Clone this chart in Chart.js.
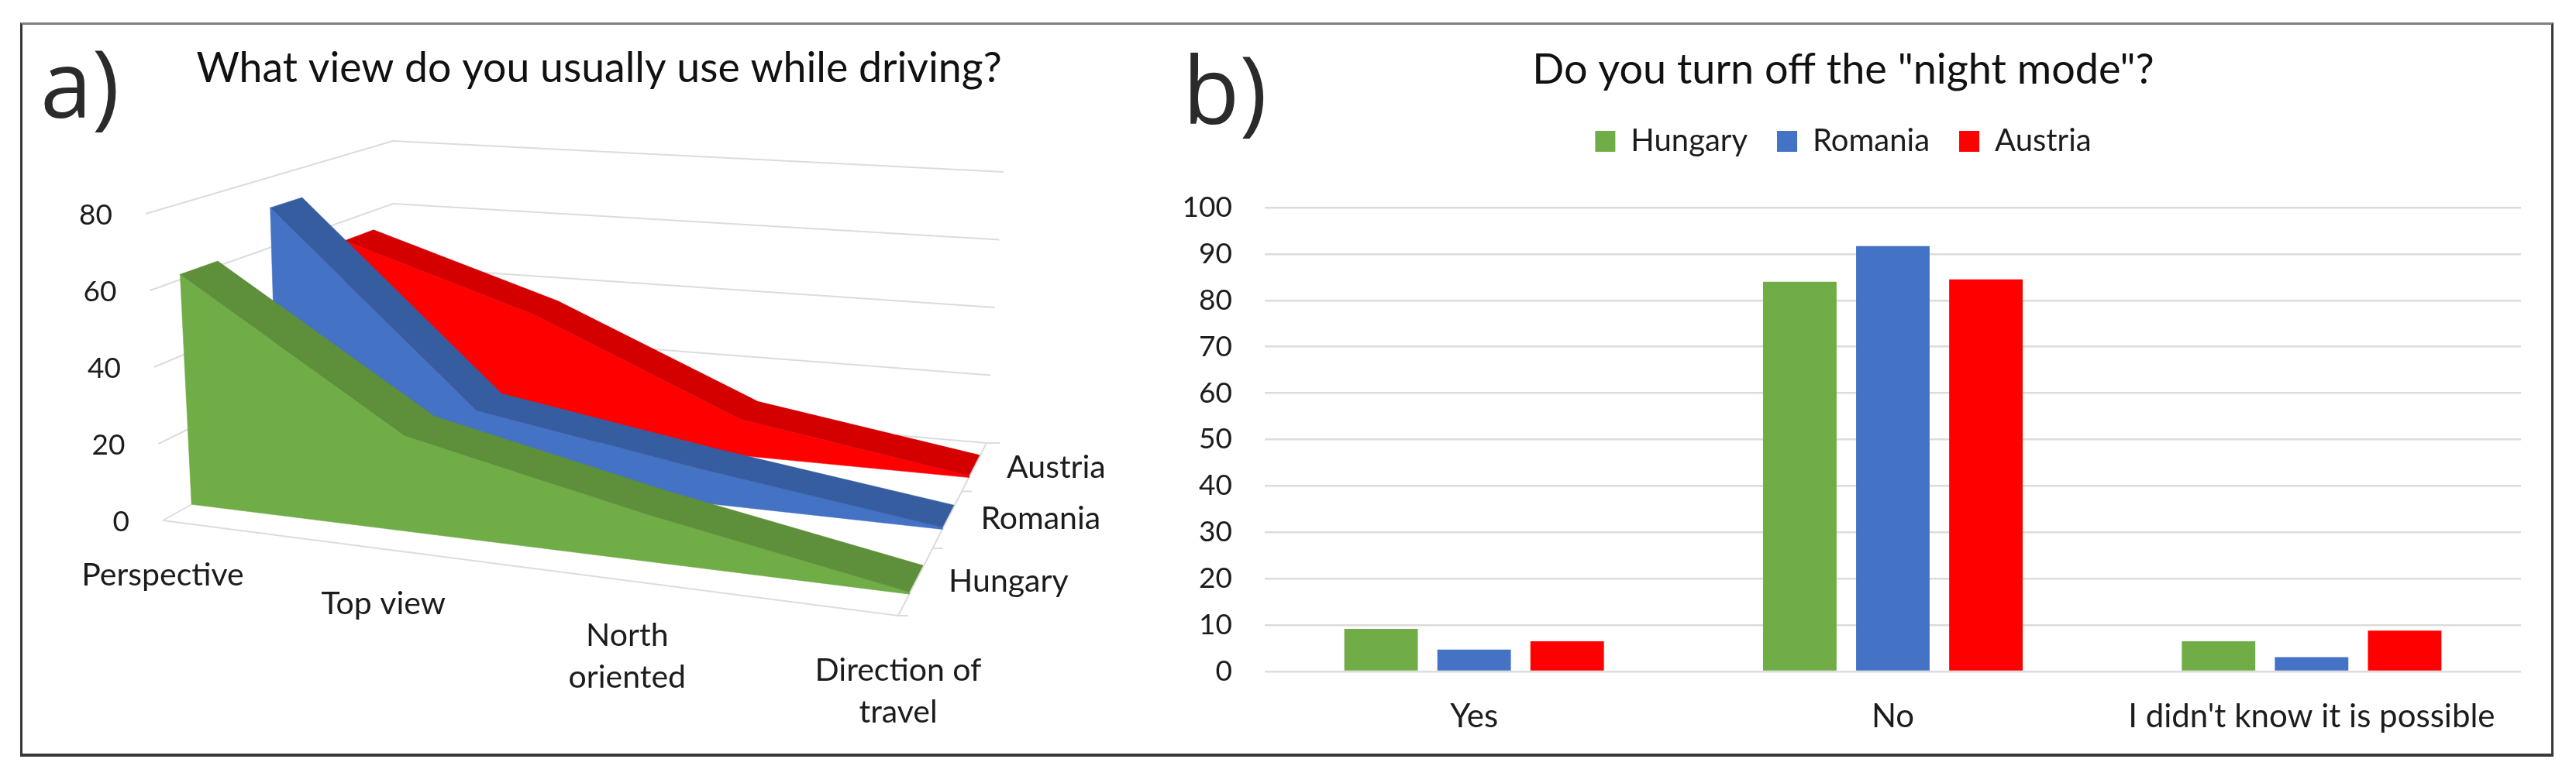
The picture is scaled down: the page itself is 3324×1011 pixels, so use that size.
<!DOCTYPE html>
<html>
<head>
<meta charset="utf-8">
<script src="https://cdn.jsdelivr.net/npm/chart.js@4/dist/chart.umd.min.js"></script>
<style>
html,body{margin:0;padding:0;background:#fff;width:3324px;height:1011px;overflow:hidden}
#frame{position:absolute;left:26px;top:29px;width:3263px;height:941px;border:3px solid #383838;border-top-color:#808080;border-bottom-width:4px}
canvas{position:absolute;top:0}
#a{left:0}
#b{left:1504px}
</style>
</head>
<body>
<div id="frame"></div>
<canvas id="a" width="1546" height="1011"></canvas>
<canvas id="b" width="1788" height="1011"></canvas>
<script>
// ---------- data ----------
const viewCategories = ['Perspective', 'Top view', ['North', 'oriented'], ['Direction of', 'travel']];
const seriesNames = ['Hungary', 'Romania', 'Austria'];
const viewHungary = [61.4, 25, 12, 0.5];
const viewRomania = [71.3, 19, 9.3, 0.5];
const viewAustria = [54, 36, 10.5, 0.5];
const viewTicks = [0, 20, 40, 60, 80];

const nightCategories = ['Yes', 'No', "I didn't know it is possible"];
const nightHungary = [9.2, 84, 6.5];
const nightRomania = [4.7, 91.7, 3.1];
const nightAustria = [6.5, 84.5, 8.8];

// ---------- styles ----------
const FONT = 'Lato';
const TEXT = '#1c1c1c';
const GRID = '#dcdcdc';
const faceColors = ['#70AD47', '#4472C4', '#FF0000'];
const topColors = ['#5E8F3A', '#375DA1', '#D40000'];

// ---------- panel a: 3-D projection, value axes -> page units ----------
const box = {
  A: [210, 672], B: [1159, 795], C: [507, 506], D: [1273, 572],
  A2: [188, 276], B2: [1174, 368], C2: [507, 182], D2: [1295, 222]
};
const seriesDepth = [[0.125, 0.28], [0.5, 0.63], [0.8, 0.92]];
const depthTicks = [0, 0.39, 0.72, 1];
const VMAX = 80, CMAX = 3, PERSP = 0.857;
const lerp = (p, q, t) => [p[0] + (q[0] - p[0]) * t, p[1] + (q[1] - p[1]) * t];
function project(c, s, v) {
  const t = c / CMAX;
  const f = PERSP * t / (1 + (PERSP - 1) * t);
  const low = lerp(lerp(box.A, box.B, f), lerp(box.C, box.D, f), s);
  const high = lerp(lerp(box.A2, box.B2, f), lerp(box.C2, box.D2, f), s);
  const p = lerp(low, high, v / VMAX);
  return {x: p[0], y: p[1]};
}
const catIdx = viewCategories.map((_, i) => i);
const viewSeries = [viewHungary, viewRomania, viewAustria];

function gridLine(points, width) {
  return {data: points, showLine: true, fill: false, pointRadius: 0, borderColor: GRID,
          borderWidth: width || 2, clip: false, tension: 0};
}
function polygon(points, color) {
  return {data: points, showLine: true, fill: 'shape', backgroundColor: color, borderColor: color,
          borderWidth: 0.5, pointRadius: 0, clip: false, tension: 0};
}
const dsA = [];
// walls
viewTicks.forEach(v => {
  dsA.push(gridLine([project(0, 0, v), project(0, 1, v), project(CMAX, 1, v)]));
});
// floor
dsA.push(gridLine([project(0, 0, 0), project(CMAX, 0, 0), project(CMAX, 1, 0)]));
depthTicks.forEach((s, i) => {
  const p = project(CMAX, s, 0);
  dsA.push(gridLine([p, {x: p.x + (i === 3 ? 17 : 13), y: p.y}]));
});
// areas, back series first so that the front one lies on top
[2, 1, 0].forEach(k => {
  const vals = viewSeries[k];
  const [sf, sb] = seriesDepth[k];
  const faceTop = catIdx.map(c => project(c, sf, vals[c]));
  const backTop = catIdx.map(c => project(c, sb, vals[c]));
  const faceLow = catIdx.map(c => project(c, sf, 0)).reverse();
  dsA.push(polygon([...faceTop, ...faceLow, faceTop[0]], faceColors[k]));
  dsA.push(polygon([...faceTop, ...backTop.slice().reverse(), faceTop[0]], topColors[k]));
});
dsA.forEach((d, i) => { d.order = -i; });

const TITLE_A_TOP = 57, TITLE_A_SIZE = 53.6;
const titleAHeight = TITLE_A_TOP + TITLE_A_SIZE * 1.2;

const labelsA = {
  id: 'labelsA',
  afterDatasetsDraw(chart) {
    const {ctx, scales: {x, y}} = chart;
    const px = p => ({x: x.getPixelForValue(p.x), y: y.getPixelForValue(p.y)});
    ctx.save();
    ctx.fillStyle = TEXT;
    ctx.font = `37px ${FONT}`;
    ctx.textBaseline = 'middle';
    ctx.textAlign = 'right';
    viewTicks.forEach(v => {
      const p = px(project(0, 0, v));
      ctx.fillText(String(v), p.x - 43, p.y + 2);
    });
    ctx.font = `41px ${FONT}`;
    ctx.textAlign = 'center';
    viewCategories.forEach((lab, c) => {
      const p = px(project(c, 0, 0));
      [].concat(lab).forEach((line, j) => ctx.fillText(line, p.x, p.y + 71 + j * 54));
    });
    ctx.textAlign = 'left';
    seriesNames.forEach((name, k) => {
      const p = px(project(CMAX, (seriesDepth[k][0] + seriesDepth[k][1]) / 2, 0));
      ctx.fillText(name, p.x + 42, p.y + 1);
    });
    ctx.fillStyle = '#2b2b2b';
    ctx.font = '120px "Open Sans"';
    ctx.textBaseline = 'alphabetic';
    ctx.fillText('a)', 52, 152);
    ctx.restore();
  }
};

new Chart(document.getElementById('a'), {
  type: 'scatter',
  data: {datasets: dsA},
  options: {
    responsive: false, animation: false, devicePixelRatio: 1,
    layout: {padding: 0},
    scales: {
      x: {type: 'linear', display: false, min: 0, max: 1546},
      y: {type: 'linear', display: false, reverse: true, min: titleAHeight, max: 1011}
    },
    plugins: {
      legend: {display: false},
      tooltip: {enabled: false},
      title: {display: true, text: 'What view do you usually use while driving?', color: '#111',
              font: {family: FONT, size: TITLE_A_SIZE, weight: 'normal', lineHeight: 1.2},
              padding: {top: TITLE_A_TOP, bottom: 0}}
    }
  },
  plugins: [labelsA]
});

// ---------- panel b ----------
const PLOT_RIGHT_PAD = 39, Y_AXIS_WIDTH = 128, X_AXIS_HEIGHT = 144, LEGEND_EXTRA = 55.5;

const labelB = {
  id: 'labelB',
  beforeLayout(chart) {
    const legend = chart.legend;
    if (legend && !legend._extraFit) {
      const fit = legend.fit;
      legend.fit = function () { fit.call(this); this.height += LEGEND_EXTRA; };
      legend._extraFit = true;
    }
  },
  afterDraw(chart) {
    const {ctx} = chart;
    ctx.save();
    ctx.fillStyle = '#2b2b2b';
    ctx.font = '120px "Open Sans"';
    ctx.textBaseline = 'alphabetic';
    ctx.textAlign = 'left';
    ctx.fillText('b)', 22, 160);
    ctx.restore();
  }
};

new Chart(document.getElementById('b'), {
  type: 'bar',
  data: {
    labels: nightCategories,
    datasets: [
      {label: seriesNames[0], data: nightHungary, backgroundColor: faceColors[0]},
      {label: seriesNames[1], data: nightRomania, backgroundColor: faceColors[1]},
      {label: seriesNames[2], data: nightAustria, backgroundColor: faceColors[2]}
    ]
  },
  options: {
    responsive: false, animation: false, devicePixelRatio: 1,
    layout: {padding: {left: 0, right: PLOT_RIGHT_PAD, top: 0, bottom: 0}},
    datasets: {bar: {categoryPercentage: 0.6667, barPercentage: 0.79}},
    scales: {
      x: {
        afterFit(axis) { axis.height = X_AXIS_HEIGHT; },
        grid: {display: false, drawTicks: false},
        border: {display: false},
        ticks: {
          autoSkip: false, maxRotation: 0, minRotation: 0, padding: 33, color: TEXT,
          font: {family: FONT, size: 42}
        }
      },
      y: {
        min: 0, max: 100,
        afterFit(axis) { axis.width = Y_AXIS_WIDTH; },
        grid: {color: GRID, lineWidth: 2.5, drawTicks: false},
        border: {display: false},
        ticks: {stepSize: 10, padding: 42, color: TEXT, font: {family: FONT, size: 37}}
      }
    },
    plugins: {
      tooltip: {enabled: false},
      title: {display: true, text: 'Do you turn off the "night mode"?', color: '#111',
              font: {family: FONT, size: 54, weight: 'normal', lineHeight: 1.2},
              padding: {top: 58.6, bottom: 1.1}},
      legend: {
        position: 'top',
        labels: {boxWidth: 26, boxHeight: 27, padding: 38, color: TEXT,
                 font: {family: FONT, size: 40}}
      }
    }
  },
  plugins: [labelB]
});
</script>
</body>
</html>
